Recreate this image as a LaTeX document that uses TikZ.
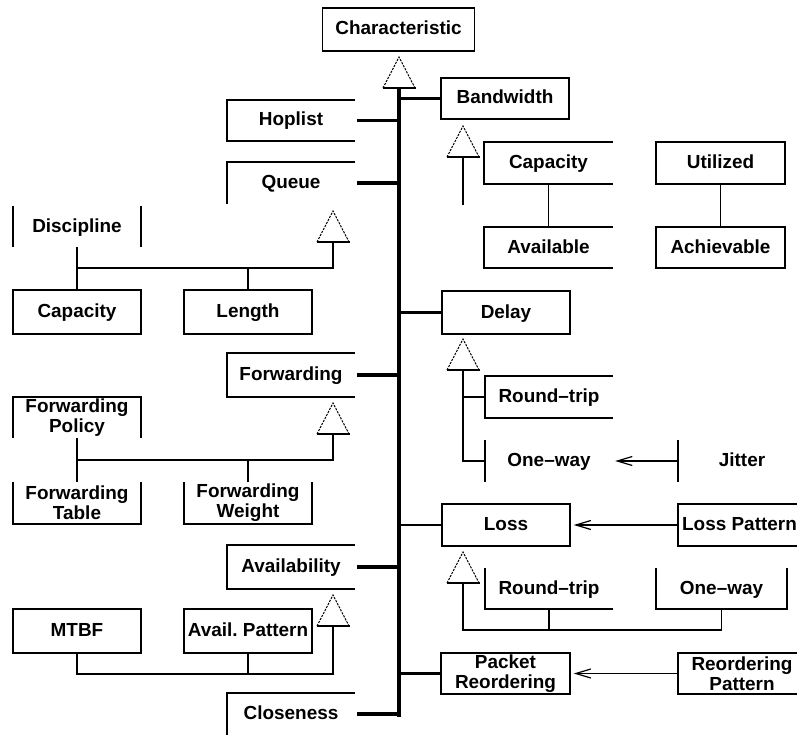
\documentclass[tikz,border=0pt]{standalone}
\usepackage{fontspec}
\setmainfont{Liberation Sans}
\usetikzlibrary{arrows.meta,calc}
\begin{document}
\begin{tikzpicture}[x=1bp,y=-1bp,
  every node/.style={inner sep=0pt, font=\fontsize{19}{20}\selectfont\bfseries},
  box/.style={minimum width=128bp, minimum height=42bp},
  boxd/.style={box, draw, line width=1.5bp},
  one/.style={text height=14bp, text depth=3bp},
  two/.style={align=center},
  ln/.style={line width=1.5bp},
  thk/.style={line width=3.4bp},
  trunkln/.style={line width=4.4bp},
  tri/.style={line width=1bp, dash pattern=on 2.2bp off 1.2bp},
  dep/.style={line width=1.4bp, -{Straight Barb[length=15bp,width=9bp,line width=1.2bp]}}
]
\useasboundingbox (0,0) rectangle (797,735);
\clip (0,0) rectangle (797,735);

% ---- nodes ----
\node[boxd,one,minimum width=152bp,minimum height=43bp] (char) at (398.5,29.5) {Characteristic};
\node[boxd,one,minimum height=41bp] (bw) at (505,98.5) {Bandwidth};
\node[box,one,minimum height=41bp] (hop) at (291,120.5) {Hoplist};
\node[box,one] (queue) at (291,183) {Queue};
\node[box,one,minimum height=41bp] (disc) at (77,226.5) {Discipline};
\node[boxd,one,minimum height=44bp] (qcap) at (77,312) {Capacity};
\node[boxd,one,minimum height=44bp] (qlen) at (248,312) {Length};
\node[box,one,minimum height=44bp] (fwd) at (291,375) {Forwarding};
\node[box,two,minimum height=41bp] (fpol) at (77,417.5) {Forwarding\\Policy};
\node[box,two] (ftab) at (77,503) {Forwarding\\Table};
\node[box,two] (fwt) at (248,503) {Forwarding\\Weight};
\node[box,one,minimum height=44bp] (avail) at (291,567) {Availability};
\node[boxd,one,minimum height=44bp] (mtbf) at (77,631) {MTBF};
\node[boxd,one,minimum height=44bp] (apat) at (248,631) {Avail.\ Pattern};
\node[box,one] (close) at (291,714) {Closeness};

\node[box,one,minimum width=129bp] (cap) at (548.5,163) {Capacity};
\node[box,one,minimum width=129bp,minimum height=41bp] (availb) at (548.5,247.5) {Available};
\node[boxd,one,minimum width=129bp] (util) at (720.5,163) {Utilized};
\node[boxd,one,minimum width=129bp,minimum height=41bp] (ach) at (720.5,247.5) {Achievable};
\node[boxd,one,minimum height=43bp] (delay) at (506,312.5) {Delay};
\node[box,one] (drt) at (549,397) {Round--trip};
\node[box,one] (dow) at (549,461) {One--way};
\node[box,one] (jit) at (742,461) {Jitter};
\node[boxd,one] (loss) at (506,525) {Loss};
\node[boxd,one,minimum width=123bp] (lpat) at (739.5,525) {Loss Pattern};
\node[box,one,minimum height=41bp] (lrt) at (549,588.5) {Round--trip};
\node[box,one,minimum width=131bp,minimum height=41bp] (low) at (721.5,588.5) {One--way};
\node[boxd,two,minimum width=129bp,minimum height=41bp] (pr) at (505.5,673.5) {Packet\\Reordering};
\node[boxd,two,minimum height=41bp] (rpat) at (742,673.5) {Reordering\\Pattern};

% ---- partial box outlines ----
\draw[ln] (hop.north east) -- (hop.north west) -- (hop.south west) -- (hop.south east);
\draw[ln] (queue.north east) -- (queue.north west) -- (queue.south west);
\draw[ln] (disc.north west) -- (disc.south west) (disc.north east) -- (disc.south east);
\draw[ln] (fwd.north east) -- (fwd.north west) -- (fwd.south west) -- (fwd.south east);
\draw[ln] (fpol.south west) -- (fpol.north west) -- (fpol.north east) -- (fpol.south east);
\draw[ln] (ftab.north west) -- (ftab.south west) -- (ftab.south east) -- (ftab.north east);
\draw[ln] (fwt.north west) -- (fwt.south west) -- (fwt.south east) -- (fwt.north east);
\draw[ln] (avail.north east) -- (avail.north west) -- (avail.south west) -- (avail.south east);
\draw[ln] (close.north east) -- (close.north west) -- (close.south west);
\draw[ln] (cap.north east) -- (cap.north west) -- (cap.south west) -- (cap.south east);
\draw[ln] (availb.north east) -- (availb.north west) -- (availb.south west) -- (availb.south east);
\draw[ln] (drt.north east) -- (drt.north west) -- (drt.south west) -- (drt.south east);
\draw[ln] (dow.north west) -- (dow.south west);
\draw[ln] (jit.north west) -- (jit.south west);
\draw[ln] (lrt.north west) -- (lrt.south west) -- (lrt.south east);
\draw[ln] (low.north west) -- (low.south west) -- (low.south east) -- (low.north east);

% ---- generalization triangles ----
\coordinate (ctri) at (399,57);    \coordinate (ctrib) at (399,88);
\coordinate (bwtri) at (463,126);  \coordinate (bwtrib) at (463,157);
\coordinate (qtri) at (333,211);   \coordinate (qtrib) at (333,242);
\coordinate (ftri) at (333,403);   \coordinate (ftrib) at (333,434);
\coordinate (dtri) at (463,339);   \coordinate (dtrib) at (463,370);
\coordinate (atri) at (333,595);   \coordinate (atrib) at (333,626);
\coordinate (ltri) at (463,552);   \coordinate (ltrib) at (463,583);
\foreach \t in {ctri,bwtri,qtri,ftri,dtri,atri,ltri}{
  \draw[tri] (\t) ++(-16,31) -- (\t) -- ++(16,31);
  \draw[ln] (\t) ++(-16.5,31) -- ++(33,0);
}

% ---- trunk ----
\coordinate (trunkend) at (399,716.7);
\draw[trunkln] (ctrib) -- (trunkend);
\draw[thk] (bw.west) -- (bw.west -| trunkend);
\draw[thk,shorten <=2bp] (hop.east) -- (hop.east -| trunkend);
\draw[thk,shorten <=2bp] (queue.east) -- (queue.east -| trunkend);
\draw[thk,shorten <=2bp] (fwd.east) -- (fwd.east -| trunkend);
\draw[thk,shorten <=2bp] (avail.east) -- (avail.east -| trunkend);
\draw[thk,shorten <=2bp] (close.east) -- (close.east -| trunkend);
\draw[thk] (delay.west) -- (delay.west -| trunkend);
\draw[ln] (loss.west) -- (loss.west -| trunkend);
\draw[thk] (pr.west) -- (pr.west -| trunkend);

% ---- queue group ----
\coordinate (qbus) at (333,268);
\draw[ln] (qtrib) -- (qbus) -| (qcap.north);
\draw[ln] (disc.south) -- (qcap.north |- qbus);
\draw[ln] (qlen.north) -- (qlen.north |- qbus);

% ---- forwarding group ----
\coordinate (fbus) at (333,460);
\draw[ln] (ftrib) -- (fbus) -| (ftab.north);
\draw[ln] (fpol.south) -- (ftab.north |- fbus);
\draw[ln] (fwt.north) -- (fwt.north |- fbus);

% ---- availability group ----
\coordinate (abus) at (333,674);
\draw[ln] (atrib) -- (abus) -| (mtbf.south);
\draw[ln] (apat.south) -- (apat.south |- abus);

% ---- bandwidth group ----
\coordinate (bwend) at (463,205);
\draw[ln] (bwtrib) -- (bwend);
\draw[ln] (cap.south) -- (availb.north);
\draw[ln] (util.south) -- (ach.north);

% ---- delay group ----
\draw[ln] (dtrib) |- (dow.west);
\draw[ln] (drt.west) -- (drt.west -| dtrib);
\draw[dep,shorten >=2bp] (jit.west) -- (dow.east);

% ---- loss group ----
\coordinate (lbus) at (463,630);
\draw[ln] (ltrib) -- (lbus) -| (low.south);
\draw[ln] (lrt.south) -- (lrt.south |- lbus);
\draw[dep,shorten >=3bp] (lpat.west) -- (loss.east);

% ---- packet reordering ----
\draw[dep,shorten >=3bp] (rpat.west) -- (pr.east);
\end{tikzpicture}
\end{document}
